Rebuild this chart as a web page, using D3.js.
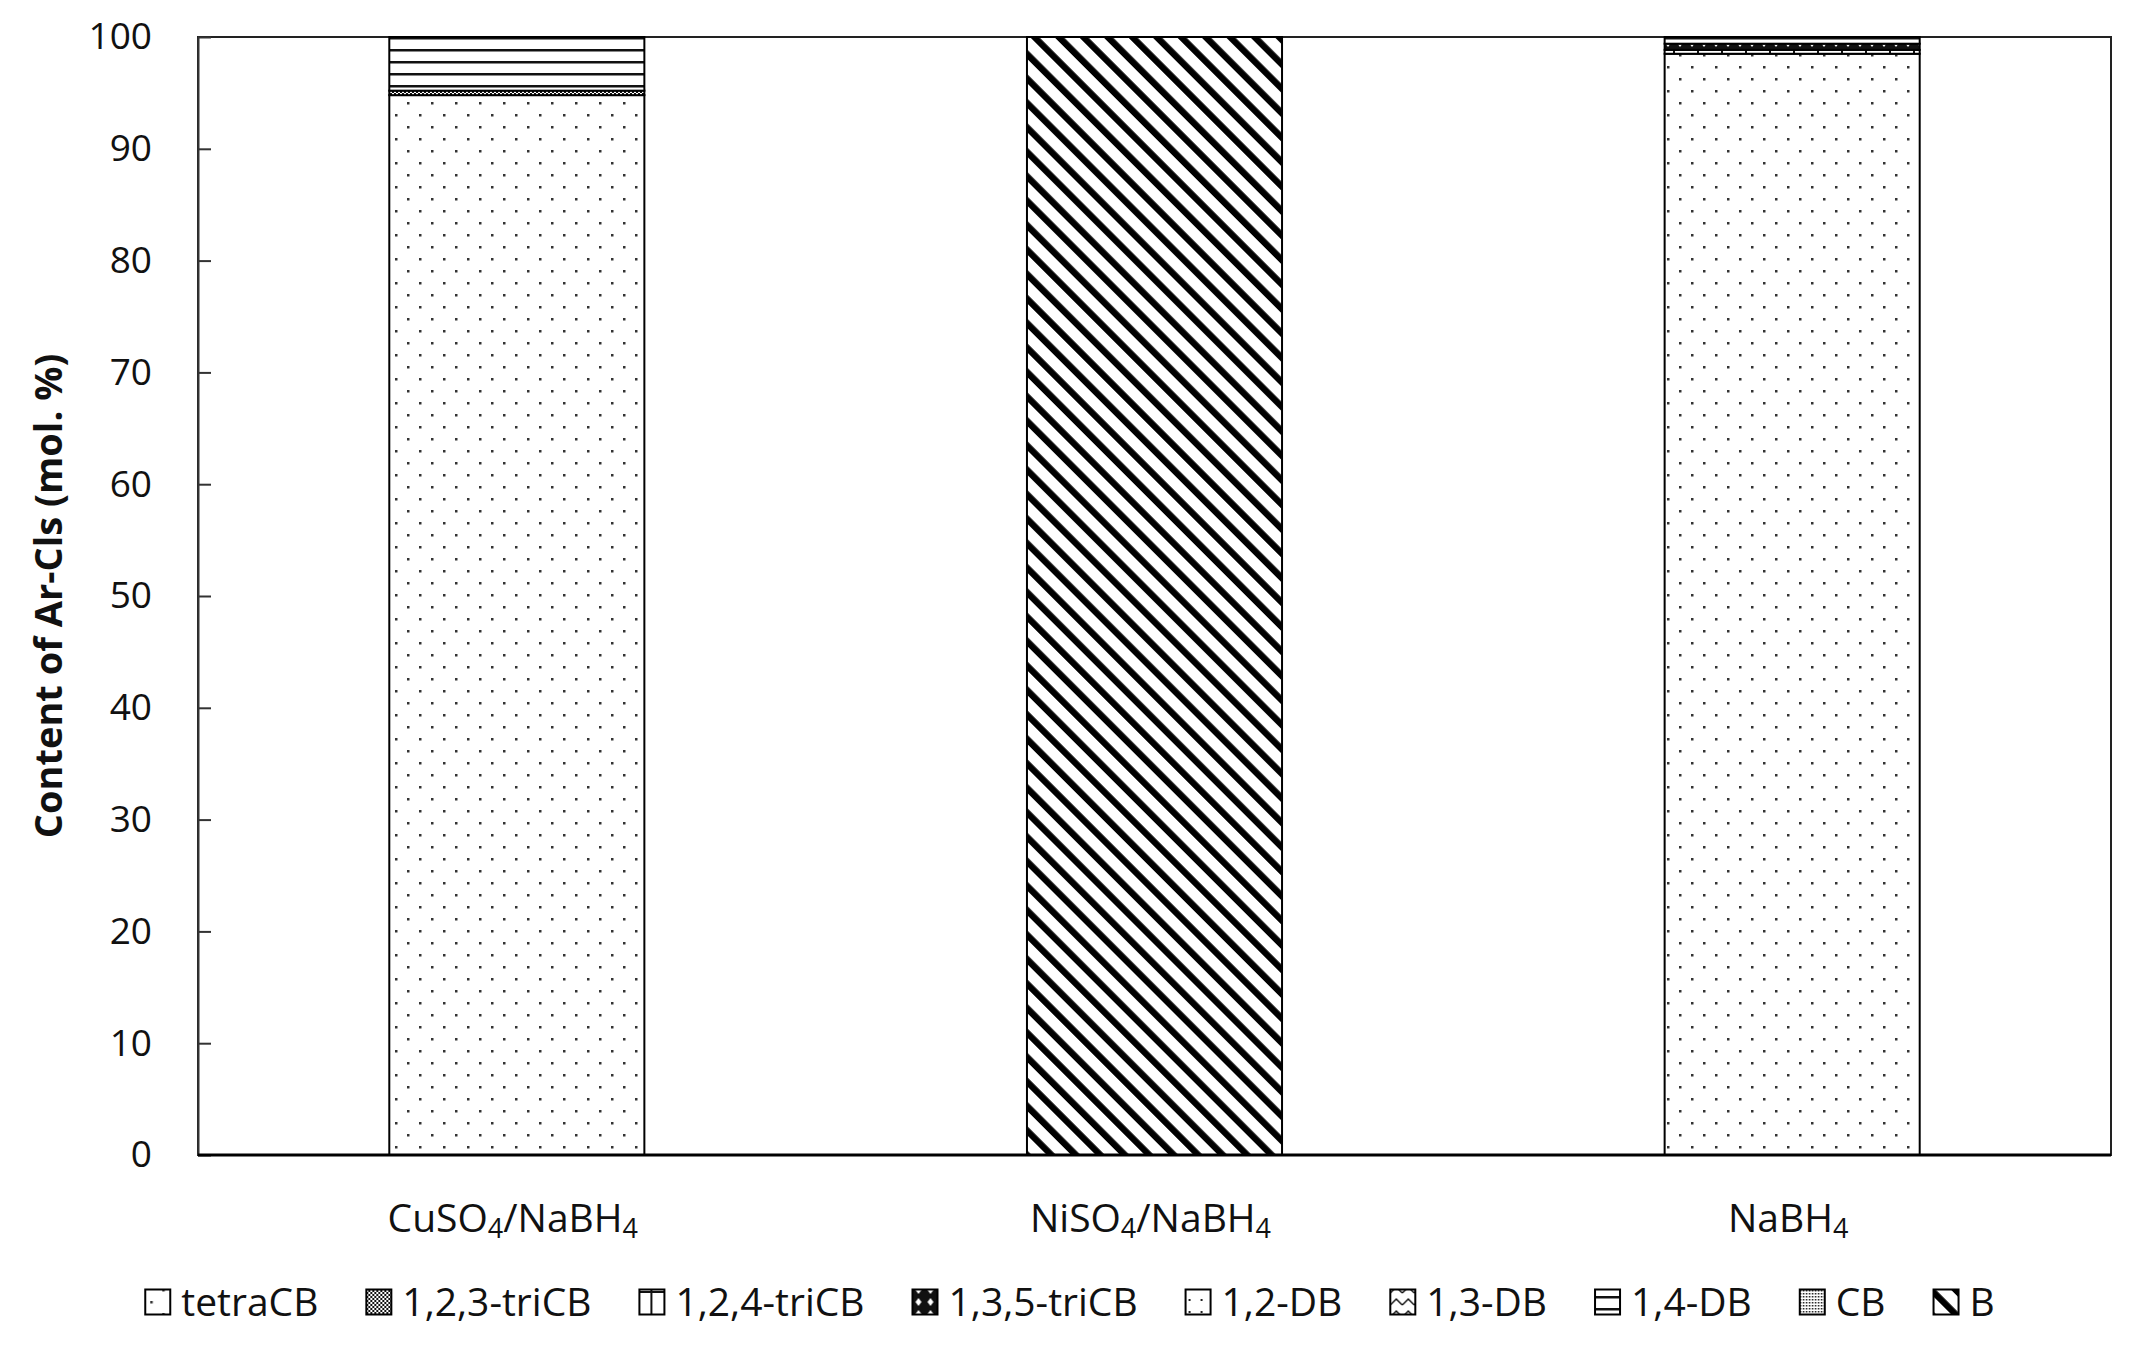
<!DOCTYPE html>
<html>
<head>
<meta charset="utf-8">
<script src="https://cdn.jsdelivr.net/npm/d3@7"></script>
<style>
  html, body { margin: 0; padding: 0; background: #fff; }
  svg { display: block; font-family: "Open Sans", sans-serif; }
</style>
</head>
<body>
<svg width="2156" height="1364"></svg>
<script>
// data (mol. %)
const categories = ["CuSO4/NaBH4", "NiSO4/NaBH4", "NaBH4"];
const seriesNames = ["tetraCB", "1,2,3-triCB", "1,2,4-triCB", "1,3,5-triCB", "1,2-DB", "1,3-DB", "1,4-DB", "CB", "B"];
const tetraCB   = [94.8, 0, 98.5];
const triCB123  = [0.4, 0, 0];
const triCB124  = [0, 0, 0.35];
const triCB135  = [0, 0, 0.55];
const DB12      = [0, 0, 0];
const DB13      = [0, 0, 0];
const DB14      = [4.8, 0, 0.6];
const CB        = [0, 0, 0];
const B         = [0, 100, 0];
const yTicks = [0, 10, 20, 30, 40, 50, 60, 70, 80, 90, 100];

const seriesValues = [tetraCB, triCB123, triCB124, triCB135, DB12, DB13, DB14, CB, B];

const svg = d3.select("svg"),
  width = +svg.attr("width"),
  height = +svg.attr("height");

const margin = { left: 198, top: 37, right: 2156 - 2111, bottom: 1364 - 1155 };
const plotW = width - margin.left - margin.right,
  plotH = height - margin.top - margin.bottom;

// table for d3.stack
const table = categories.map((c, i) => {
  const row = { cat: c };
  seriesNames.forEach((s, j) => (row[s] = seriesValues[j][i]));
  return row;
});
const stacked = d3.stack().keys(seriesNames)(table);

const x = d3.scaleBand().domain(categories).range([0, plotW]).paddingInner(0.6).paddingOuter(0.3);
const y = d3.scaleLinear().domain([0, 100]).range([plotH, 0]);

// fill patterns, one per series
const defs = svg.append("defs");
function pattern(id, w, h, draw, transform) {
  const p = defs.append("pattern").attr("id", id)
    .attr("patternUnits", "userSpaceOnUse").attr("width", w).attr("height", h);
  if (transform) p.attr("patternTransform", transform);
  p.append("rect").attr("width", w).attr("height", h).attr("fill", "#fff");
  draw(p);
}
pattern("p0", 24, 24, p => {
  p.append("rect").attr("x", 5).attr("y", 5).attr("width", 2.5).attr("height", 2.5).attr("fill", "#333");
  p.append("rect").attr("x", 17).attr("y", 17).attr("width", 2.5).attr("height", 2.5).attr("fill", "#333");
});
pattern("p1", 4, 4, p => {
  p.append("rect").attr("width", 2).attr("height", 2).attr("fill", "#111");
  p.append("rect").attr("x", 2).attr("y", 2).attr("width", 2).attr("height", 2).attr("fill", "#111");
});
pattern("p2", 24, 24, p => {
  p.append("rect").attr("x", 11).attr("width", 2).attr("height", 24).attr("fill", "#111");
  p.append("rect").attr("y", 19).attr("width", 24).attr("height", 2).attr("fill", "#111");
});
pattern("p3", 12, 12, p => {
  p.append("rect").attr("width", 12).attr("height", 12).attr("fill", "#111");
  p.append("path").attr("d", "M6,2 L9,6 L6,10 L3,6 Z").attr("fill", "#fff");
});
pattern("p4", 12, 12, p => {
  p.append("rect").attr("x", 3).attr("y", 3).attr("width", 2).attr("height", 2).attr("fill", "#222");
});
pattern("p5", 12, 12, p => {
  p.append("path").attr("d", "M0,9 L6,3 L12,9").attr("fill", "none").attr("stroke", "#111").attr("stroke-width", 1.5);
});
pattern("p6", 12, 12, p => {
  p.append("rect").attr("y", 0).attr("width", 12).attr("height", 2.5).attr("fill", "#111");
});
pattern("p7", 3, 3, p => {
  p.append("rect").attr("width", 1.5).attr("height", 1.5).attr("fill", "#111");
});
pattern("p8", 17.3, 17.3, p => {
  p.append("rect").attr("width", 6.5).attr("height", 17.3).attr("fill", "#000");
}, "rotate(-45)");

const g = svg.append("g").attr("transform", `translate(${margin.left},${margin.top})`);

// plot frame
g.append("rect").attr("width", plotW).attr("height", plotH)
  .attr("fill", "none").attr("stroke", "#222").attr("stroke-width", 2);

// stacked bars
g.append("g").selectAll("g")
  .data(stacked)
  .join("g")
  .attr("fill", (d, i) => `url(#p${i})`)
  .selectAll("rect")
  .data(d => d.filter(s => s[1] - s[0] > 0))
  .join("rect")
  .attr("x", d => x(d.data.cat))
  .attr("width", x.bandwidth())
  .attr("y", d => y(d[1]))
  .attr("height", d => y(d[0]) - y(d[1]))
  .attr("stroke", "#000")
  .attr("stroke-width", 2);

// y axis, ticks pointing inside
const yAxis = g.append("g")
  .call(d3.axisLeft(y).tickValues(yTicks).tickSizeInner(-13).tickSizeOuter(0).tickPadding(46));
yAxis.select(".domain").attr("stroke", "#333").attr("stroke-width", 2);
yAxis.selectAll(".tick line").attr("stroke", "#333").attr("stroke-width", 2);
yAxis.selectAll(".tick text")
  .attr("font-family", "Open Sans").attr("font-size", 37).attr("fill", "#111");

// x axis line
g.append("line").attr("x1", 0).attr("x2", plotW).attr("y1", plotH).attr("y2", plotH)
  .attr("stroke", "#000").attr("stroke-width", 3);

// category labels with subscripts
g.append("g").selectAll("text")
  .data(categories)
  .join("text")
  .attr("x", d => x(d) + x.bandwidth() / 2 - 4)
  .attr("y", plotH + 77)
  .attr("text-anchor", "middle")
  .attr("font-size", 39)
  .attr("fill", "#111")
  .each(function(d) {
    const t = d3.select(this);
    d.split(/(\d)/).filter(s => s).forEach(part => {
      const sub = /\d/.test(part);
      t.append("tspan")
        .attr("font-size", sub ? 27 : 39)
        .attr("baseline-shift", sub ? "-22%" : null)
        .text(part);
    });
  });

// y title
svg.append("text")
  .attr("transform", `translate(47,${margin.top + plotH / 2}) rotate(-90)`)
  .attr("text-anchor", "middle")
  .attr("dominant-baseline", "central")
  .attr("font-size", 38)
  .attr("font-weight", "bold")
  .attr("fill", "#111")
  .text("Content of Ar-Cls (mol. %)");

// legend
const box = 25, boxGap = 11, itemGap = 48, legendY = 1302;
const legend = svg.append("g");
const items = legend.selectAll("g").data(seriesNames).join("g");
items.append("rect")
  .attr("y", legendY - box / 2).attr("width", box).attr("height", box)
  .attr("fill", (d, i) => `url(#p${i})`)
  .attr("stroke", "#000").attr("stroke-width", 2);
items.append("text")
  .attr("x", box + boxGap).attr("y", legendY).attr("dy", "0.35em")
  .attr("font-size", 39).attr("fill", "#111")
  .text(d => d);
const widths = [];
items.each(function() { widths.push(box + boxGap + d3.select(this).select("text").node().getComputedTextLength()); });
const total = d3.sum(widths) + itemGap * (widths.length - 1);
let cx = 1070 - total / 2;
items.attr("transform", (d, i) => {
  const tx = cx;
  cx += widths[i] + itemGap;
  return `translate(${tx},0)`;
});
</script>
</body>
</html>
